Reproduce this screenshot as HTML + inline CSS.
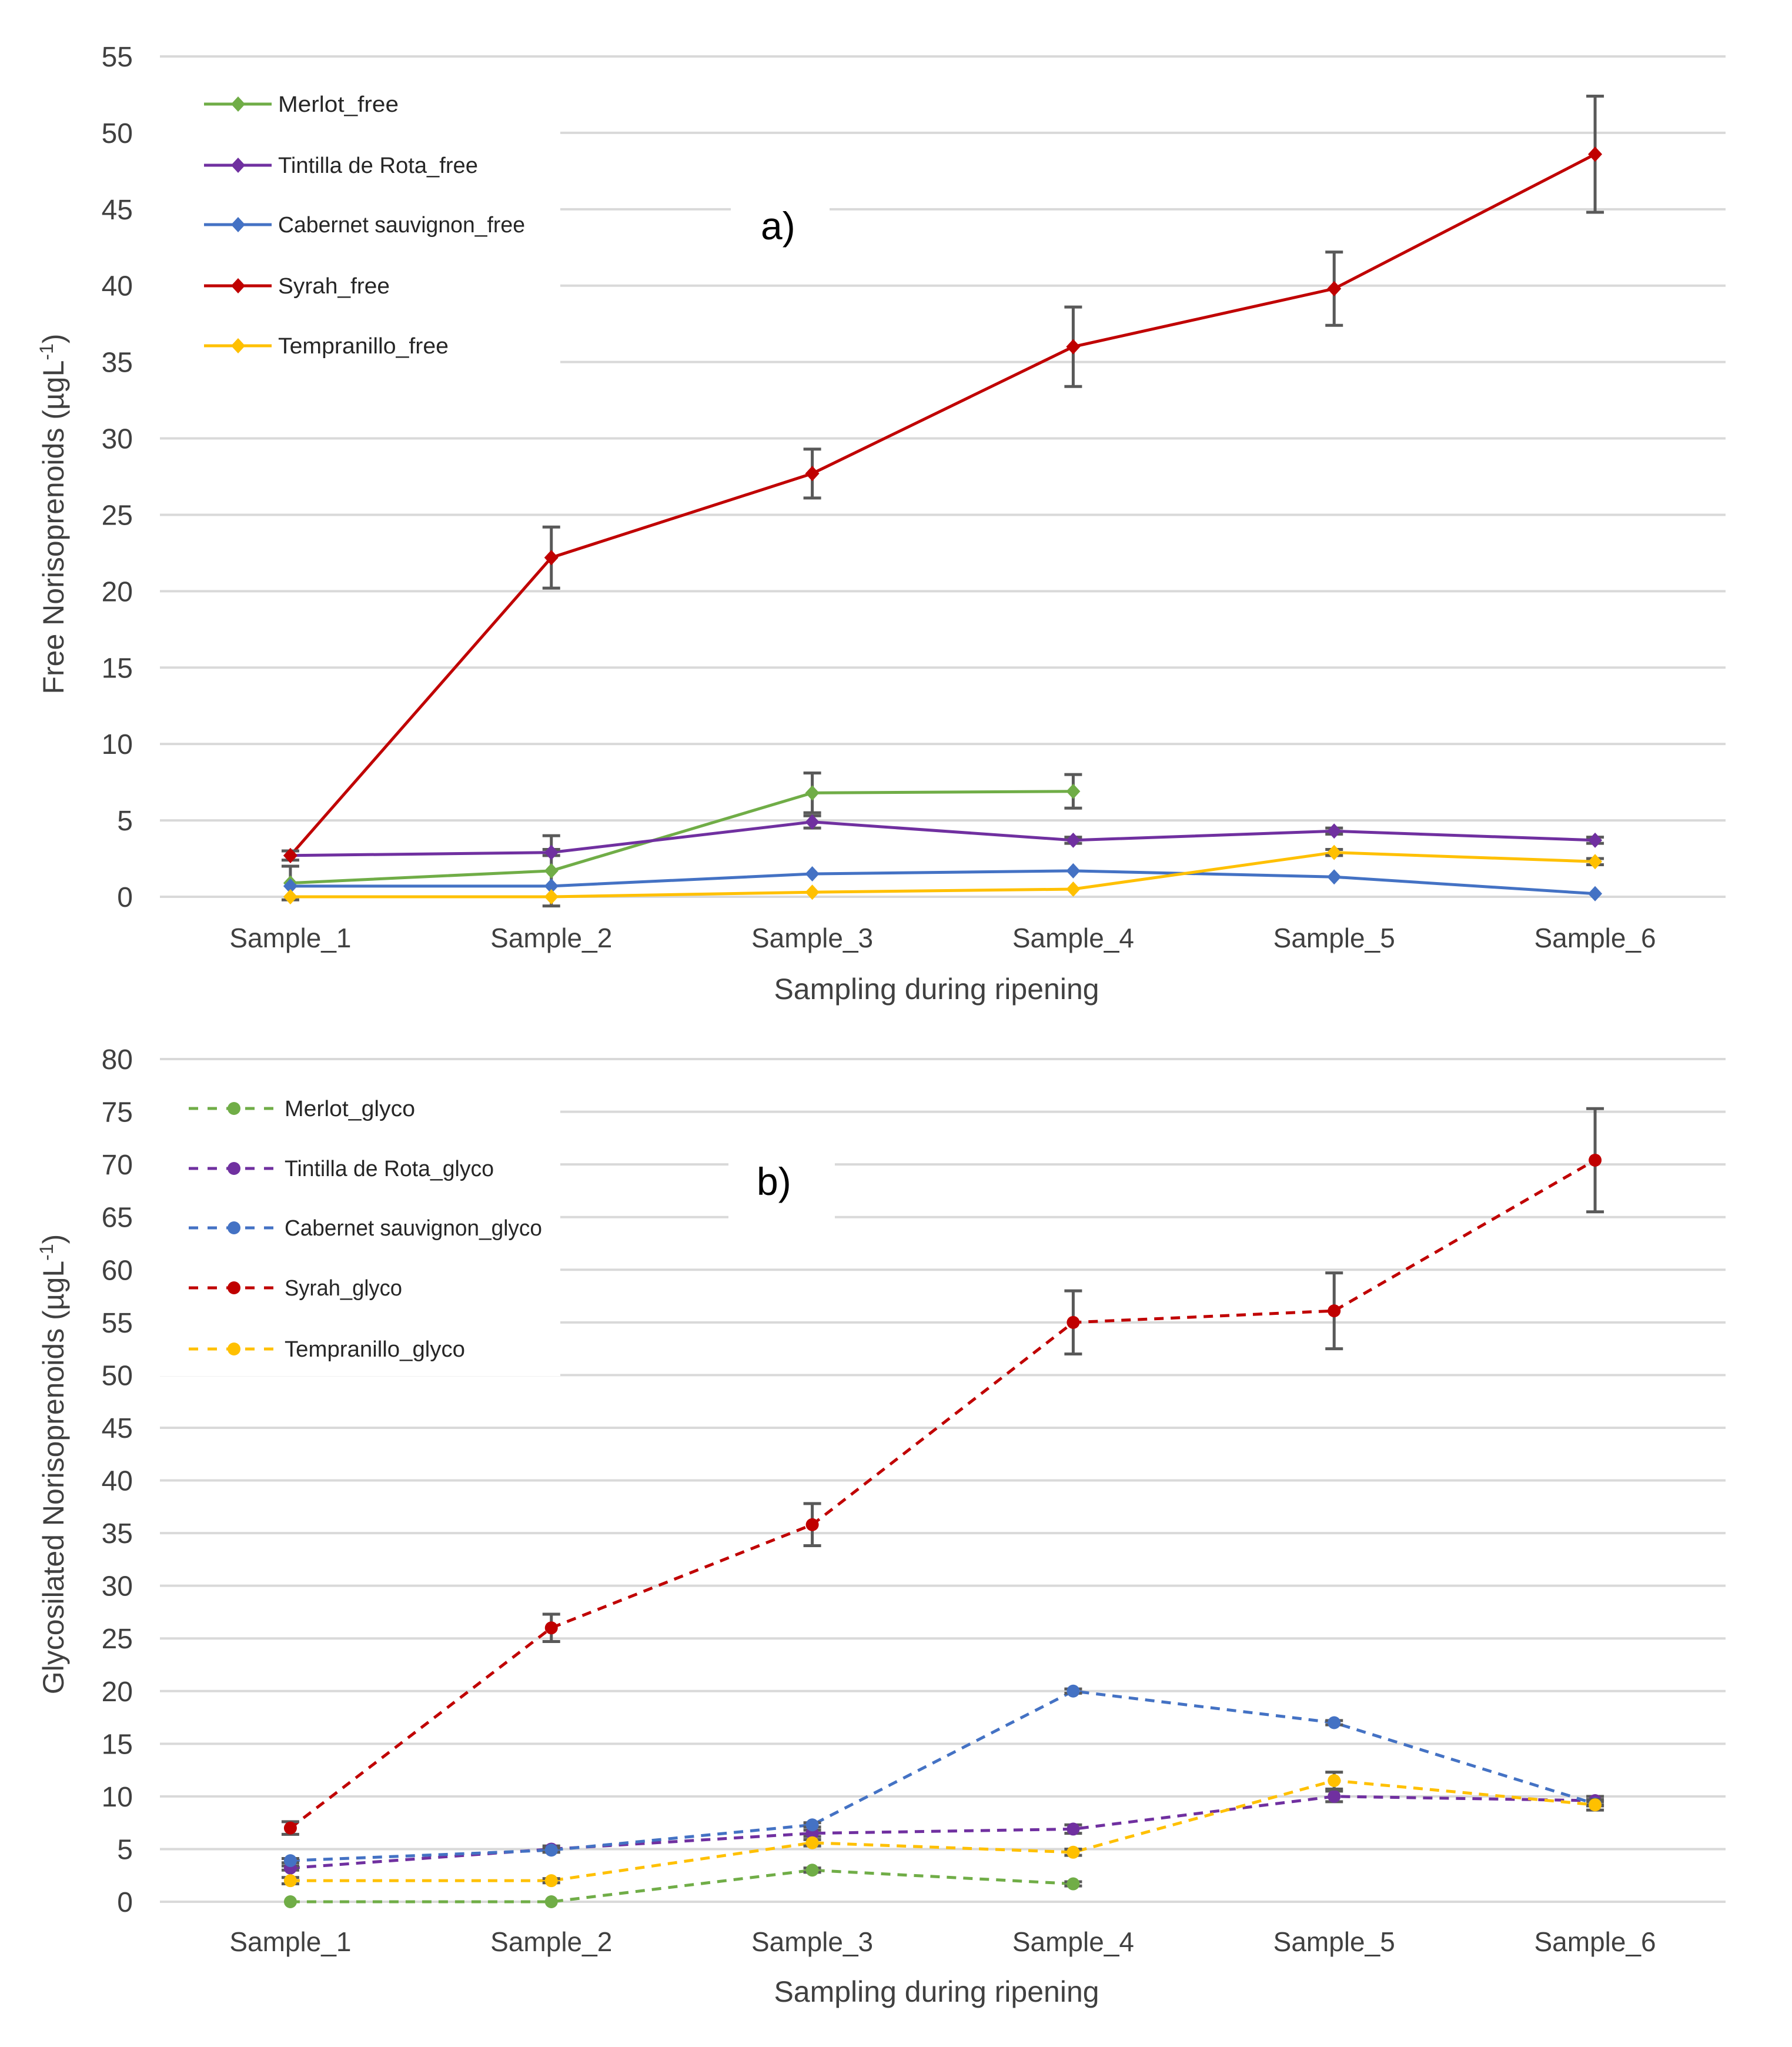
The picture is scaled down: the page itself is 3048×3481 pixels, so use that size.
<!DOCTYPE html>
<html><head><meta charset="utf-8"><style>
html,body{margin:0;padding:0;background:#fff;}
svg{display:block;font-family:"Liberation Sans",sans-serif;}
</style></head><body>
<svg id="chart" xmlns="http://www.w3.org/2000/svg" width="3048" height="3481" viewBox="0 0 3048 3481"></svg>
<script>
const categories = ["Sample_1","Sample_2","Sample_3","Sample_4","Sample_5","Sample_6"];
const seriesNames = ["Merlot","Tintilla de Rota","Cabernet sauvignon","Syrah","Tempranillo"];
const seriesColors = ["#70ad47","#7030a0","#4472c4","#c00000","#ffc000"];
const freeMerlot = [0.9,1.7,6.8,6.9,null,null];
const freeMerlotErr = [1.1,2.3,1.3,1.1,0,0];
const freeTintilla = [2.7,2.9,4.9,3.7,4.3,3.7];
const freeTintillaErr = [0.1,0.2,0.4,0.2,0.2,0.2];
const freeCabernet = [0.7,0.7,1.5,1.7,1.3,0.2];
const freeCabernetErr = [0.1,0.1,0.1,0.1,0.1,0.1];
const freeSyrah = [2.7,22.2,27.7,36.0,39.8,48.6];
const freeSyrahErr = [0.3,2.0,1.6,2.6,2.4,3.8];
const freeTempranillo = [0.0,0.0,0.3,0.5,2.9,2.3];
const freeTempranilloErr = [0,0,0.1,0.1,0.2,0.2];
const glycoMerlot = [0,0,3.0,1.7,null,null];
const glycoMerlotErr = [0,0,0.2,0.2,0,0];
const glycoTintilla = [3.2,5.0,6.5,6.9,10.0,9.6];
const glycoTintillaErr = [0.2,0.3,0.3,0.4,0.5,0.4];
const glycoCabernet = [3.9,4.9,7.3,20.0,17.0,9.3];
const glycoCabernetErr = [0.2,0.2,0.2,0.2,0.2,0.2];
const glycoSyrah = [7.0,26.0,35.8,55.0,56.1,70.4];
const glycoSyrahErr = [0.6,1.3,2.0,3.0,3.6,4.9];
const glycoTempranillo = [2.0,2.0,5.6,4.7,11.5,9.2];
const glycoTempranilloErr = [0.3,0.2,0.3,0.3,0.8,0.5];
const freeTicks = [0,5,10,15,20,25,30,35,40,45,50,55];
const glycoTicks = [0,5,10,15,20,25,30,35,40,45,50,55,60,65,70,75,80];

const NS="http://www.w3.org/2000/svg";
const svg=document.getElementById('chart');
function mk(tag,attrs,parent){const e=document.createElementNS(NS,tag);for(const k in attrs)e.setAttribute(k,attrs[k]);(parent||svg).appendChild(e);return e;}
const L=272,R=2935;
function xPos(i){return L+(i+0.5)*(R-L)/categories.length;}

function drawChart(cfg){
  const g=mk('g',{});
  
  
  const yPos=v=>cfg.y0-(v/cfg.max)*(cfg.y0-cfg.yTop);
  cfg.ticks.forEach(t=>{
    const ln=mk('line',{x1:L,x2:R,y1:yPos(t),y2:yPos(t),stroke:'#d9d9d9','stroke-width':4},g);
    
    
    const tx=mk('text',{x:226,y:yPos(t)+17,'text-anchor':'end','font-size':48,fill:'#404040'},g);
    tx.textContent=t;
    
    
  });
  mk('rect',{x:L-2,y:cfg.legBox[0],width:683,height:cfg.legBox[1]-cfg.legBox[0],fill:'#fff'},g);
  mk('rect',{x:cfg.tagBox[0],y:cfg.tagBox[1],width:cfg.tagBox[2],height:125,fill:'#fff'},g);
  categories.forEach((c,i)=>{
    const tx=mk('text',{x:xPos(i),y:cfg.xLabY,'text-anchor':'middle','font-size':46,fill:'#404040'},g);
    tx.textContent=c;
    
    
  });
  const xt=mk('text',{x:1593,y:cfg.xTitleY,'text-anchor':'middle','font-size':50,fill:'#404040'},g);
  xt.textContent='Sampling during ripening';
  
  
  const yt=mk('text',{x:0,y:0,'text-anchor':'middle','font-size':50,fill:'#404040',transform:`translate(108,${cfg.yTitleY}) rotate(-90)`},g);
  yt.innerHTML=cfg.yTitle+' (µgL<tspan dy="-18" font-size="32">-1</tspan><tspan dy="18">)</tspan>';
  
  
  const tag=mk('text',{x:cfg.tagX,y:cfg.tagY,'font-size':66,fill:'#000'},g);
  tag.textContent=cfg.tag;
  
  
  const dash=cfg.dashed?'16 12':null;
  function marker(x,y,color,parent){
    if(cfg.dashed) return mk('circle',{cx:x,cy:y,r:11,fill:color},parent);
    return mk('path',{d:`M${x} ${y-13}L${x+12} ${y}L${x} ${y+13}L${x-12} ${y}Z`,fill:color},parent);
  }
  cfg.series.forEach((s,si)=>{
    const sg=mk('g',{},g);
    
    
    const color=seriesColors[si];
    const pts=[];
    s.vals.forEach((v,i)=>{if(v!==null)pts.push([xPos(i),yPos(v)]);});
    const pl=mk('polyline',{points:pts.map(p=>p.join(',')).join(' '),fill:'none',stroke:color,'stroke-width':5},sg);
    if(dash)pl.setAttribute('stroke-dasharray',dash);
    
    
    s.vals.forEach((v,i)=>{
      if(v===null)return;
      const e=s.err[i];
      if(e>0.15){
        const eb=mk('path',{d:`M${xPos(i)} ${yPos(v+e)}V${yPos(v-e)}M${xPos(i)-15} ${yPos(v+e)}h30M${xPos(i)-15} ${yPos(v-e)}h30`,stroke:'#595959','stroke-width':5,fill:'none'},sg);
        
        
      }
      const m=marker(xPos(i),yPos(v),color,sg);
      
      
    });
    const ly=cfg.legY[si];
    const lg=mk('g',{},g);
    
    
    const ll=mk('line',{x1:cfg.legX1,x2:cfg.legX2,y1:ly,y2:ly,stroke:color,'stroke-width':5},lg);
    if(dash)ll.setAttribute('stroke-dasharray','16 16');
    marker(cfg.legM,ly,color,lg);
    const lt=mk('text',{x:cfg.legT,y:ly+13,'font-size':38,fill:'#262626',textLength:cfg.legW[si],lengthAdjust:'spacingAndGlyphs'},lg);
    lt.textContent=seriesNames[si]+cfg.suffix;
  });
}

drawChart({name:'chart-a-free',y0:1525,yTop:96,max:55,ticks:freeTicks,xLabY:1611,xTitleY:1699,
  yTitle:'Free Norisoprenoids',yTitleY:874,tag:'a)',tagX:1294,tagY:407,tagBox:[1243,320,168],
  legBox:[120,640],legX1:347,legX2:462,legM:405,legT:473,legY:[177,281,382,486,588],
  legW:[205,340,420,190,290],suffix:'_free',dashed:false,
  series:[{vals:freeMerlot,err:freeMerlotErr},{vals:freeTintilla,err:freeTintillaErr},{vals:freeCabernet,err:freeCabernetErr},{vals:freeSyrah,err:freeSyrahErr},{vals:freeTempranillo,err:freeTempranilloErr}]});

drawChart({name:'chart-b-glyco',y0:3234,yTop:1801,max:80,ticks:glycoTicks,xLabY:3318,xTitleY:3404,
  yTitle:'Glycosilated Norisoprenoids',yTitleY:2490,tag:'b)',tagX:1287,tagY:2032,tagBox:[1239,1947,181],
  legBox:[1845,2340],legX1:321,legX2:465,legM:398,legT:484,legY:[1885,1987,2088,2190,2294],
  legW:[222,356,438,200,307],suffix:'_glyco',dashed:true,
  series:[{vals:glycoMerlot,err:glycoMerlotErr},{vals:glycoTintilla,err:glycoTintillaErr},{vals:glycoCabernet,err:glycoCabernetErr},{vals:glycoSyrah,err:glycoSyrahErr},{vals:glycoTempranillo,err:glycoTempranilloErr}]});
</script>
</body></html>
